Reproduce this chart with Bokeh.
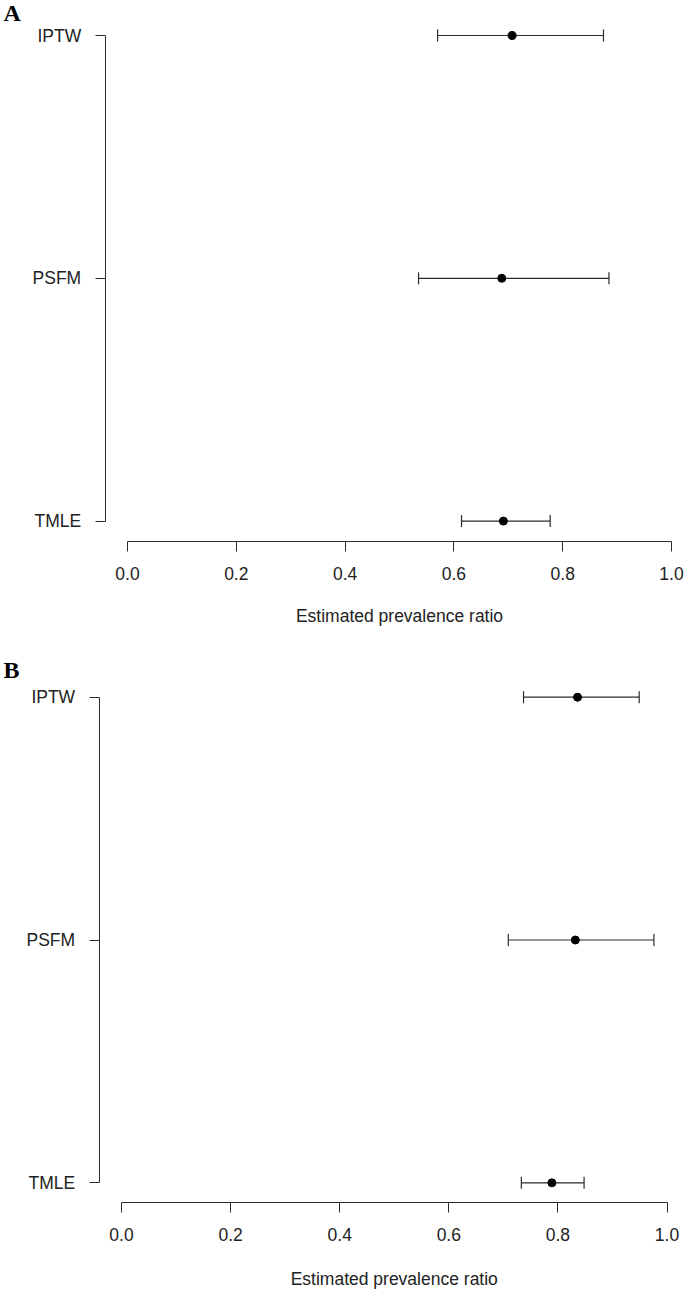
from bokeh.plotting import figure
from bokeh.models import (Range1d, FixedTicker, PrintfTickFormatter, Whisker,
                          TeeHead, ColumnDataSource, Label)
from bokeh.layouts import column
from bokeh.embed import file_html
from bokeh.resources import INLINE

# ---------------- data ----------------
categories = ["IPTW", "PSFM", "TMLE"]
panel_letters = ["A", "B"]

est_A = [0.707, 0.688, 0.691]
lo_A = [0.570, 0.535, 0.614]
hi_A = [0.875, 0.885, 0.777]

est_B = [0.836, 0.832, 0.789]
lo_B = [0.737, 0.709, 0.733]
hi_B = [0.949, 0.976, 0.848]

x_ticks = [0.0, 0.2, 0.4, 0.6, 0.8, 1.0]
x_title = "Estimated prevalence ratio"

# ---------------- styling / layout ----------------
FONT = "Liberation Sans"
INK = "#2b2b2b"
TXT = "#222222"
FIG_W = 685
PPU_Y = 242.8      # pixels per category step
YAXIS_AT = -0.041  # R-style: y axis drawn just left of x = 0


def panel(letter, est, lo, hi, fig_h, x0_px, ppu_x, top_px, bottom_gap,
          letter_y, title_y):
    n = len(categories)
    ypos = [n - i for i in range(n)]

    x_left = -x0_px / ppu_x
    x_right = x_left + FIG_W / ppu_x
    y_end = n + top_px / PPU_Y
    y_start = y_end - fig_h / PPU_Y
    xaxis_at = 1 - bottom_gap / PPU_Y

    p = figure(frame_width=FIG_W, frame_height=fig_h,
               x_range=Range1d(x_left, x_right),
               y_range=Range1d(y_start, y_end),
               output_backend="svg", toolbar_location=None,
               min_border_left=0, min_border_right=0, min_border_top=0,
               min_border_bottom=0)
    p.xgrid.visible = False
    p.ygrid.visible = False
    p.outline_line_color = None
    p.background_fill_color = "white"
    p.border_fill_color = "white"

    src = ColumnDataSource(dict(y=ypos, est=est, lo=lo, hi=hi))
    w = Whisker(source=src, base="y", lower="lo", upper="hi",
                dimension="width", line_color=INK, line_width=1.2,
                upper_head=TeeHead(size=12, line_color=INK, line_width=1.2),
                lower_head=TeeHead(size=12, line_color=INK, line_width=1.2))
    p.add_layout(w)
    p.scatter("est", "y", source=src, size=8, color="black")

    # x axis (R style: line only between first and last tick)
    xa = p.xaxis[0]
    xa.fixed_location = xaxis_at
    xa.ticker = FixedTicker(ticks=x_ticks)
    xa.bounds = (x_ticks[0], x_ticks[-1])
    xa.formatter = PrintfTickFormatter(format="%.1f")
    xa.major_tick_out = 10
    xa.major_tick_in = 0
    xa.minor_tick_line_color = None
    xa.major_label_standoff = 16
    xa.axis_line_color = INK
    xa.major_tick_line_color = INK
    xa.major_label_text_font = FONT
    xa.major_label_text_font_size = "17.5px"
    xa.major_label_text_color = TXT

    # x axis title, centred under the 0..1 axis like R
    p.add_layout(Label(x=(x_ticks[0] + x_ticks[-1]) / 2,
                       y=y_end - title_y / PPU_Y, text=x_title,
                       text_font=FONT, text_font_size="17.5px",
                       text_align="center", text_baseline="alphabetic",
                       text_color=TXT))

    # y axis, drawn just left of x = 0
    ya = p.yaxis[0]
    ya.fixed_location = YAXIS_AT
    ya.ticker = FixedTicker(ticks=ypos)
    ya.bounds = (min(ypos), max(ypos))
    ya.major_label_overrides = {y: c for y, c in zip(ypos, categories)}
    ya.major_tick_out = 10
    ya.major_tick_in = 0
    ya.minor_tick_line_color = None
    ya.major_label_standoff = 14
    ya.axis_line_color = INK
    ya.major_tick_line_color = INK
    ya.major_label_text_font = FONT
    ya.major_label_text_font_size = "17.5px"
    ya.major_label_text_color = TXT
    ya.major_label_orientation = "horizontal"

    # panel letter
    p.add_layout(Label(x=x_left + 3 / ppu_x, y=y_end - letter_y / PPU_Y,
                       text=letter, text_font="Liberation Serif",
                       text_font_style="bold", text_font_size="24px",
                       text_baseline="middle", text_align="left",
                       text_color="black"))
    return p


pA = panel(panel_letters[0], est_A, lo_A, hi_A, fig_h=655, x0_px=127,
           ppu_x=544.0, top_px=35.0, bottom_gap=20.0, letter_y=12,
           title_y=615)
pB = panel(panel_letters[1], est_B, lo_B, hi_B, fig_h=634, x0_px=121,
           ppu_x=545.5, top_px=41.7, bottom_gap=19.4, letter_y=14,
           title_y=1278 - 655)

layout = column(pA, pB, spacing=0)
open("out.html", "w").write(file_html(layout, INLINE))
